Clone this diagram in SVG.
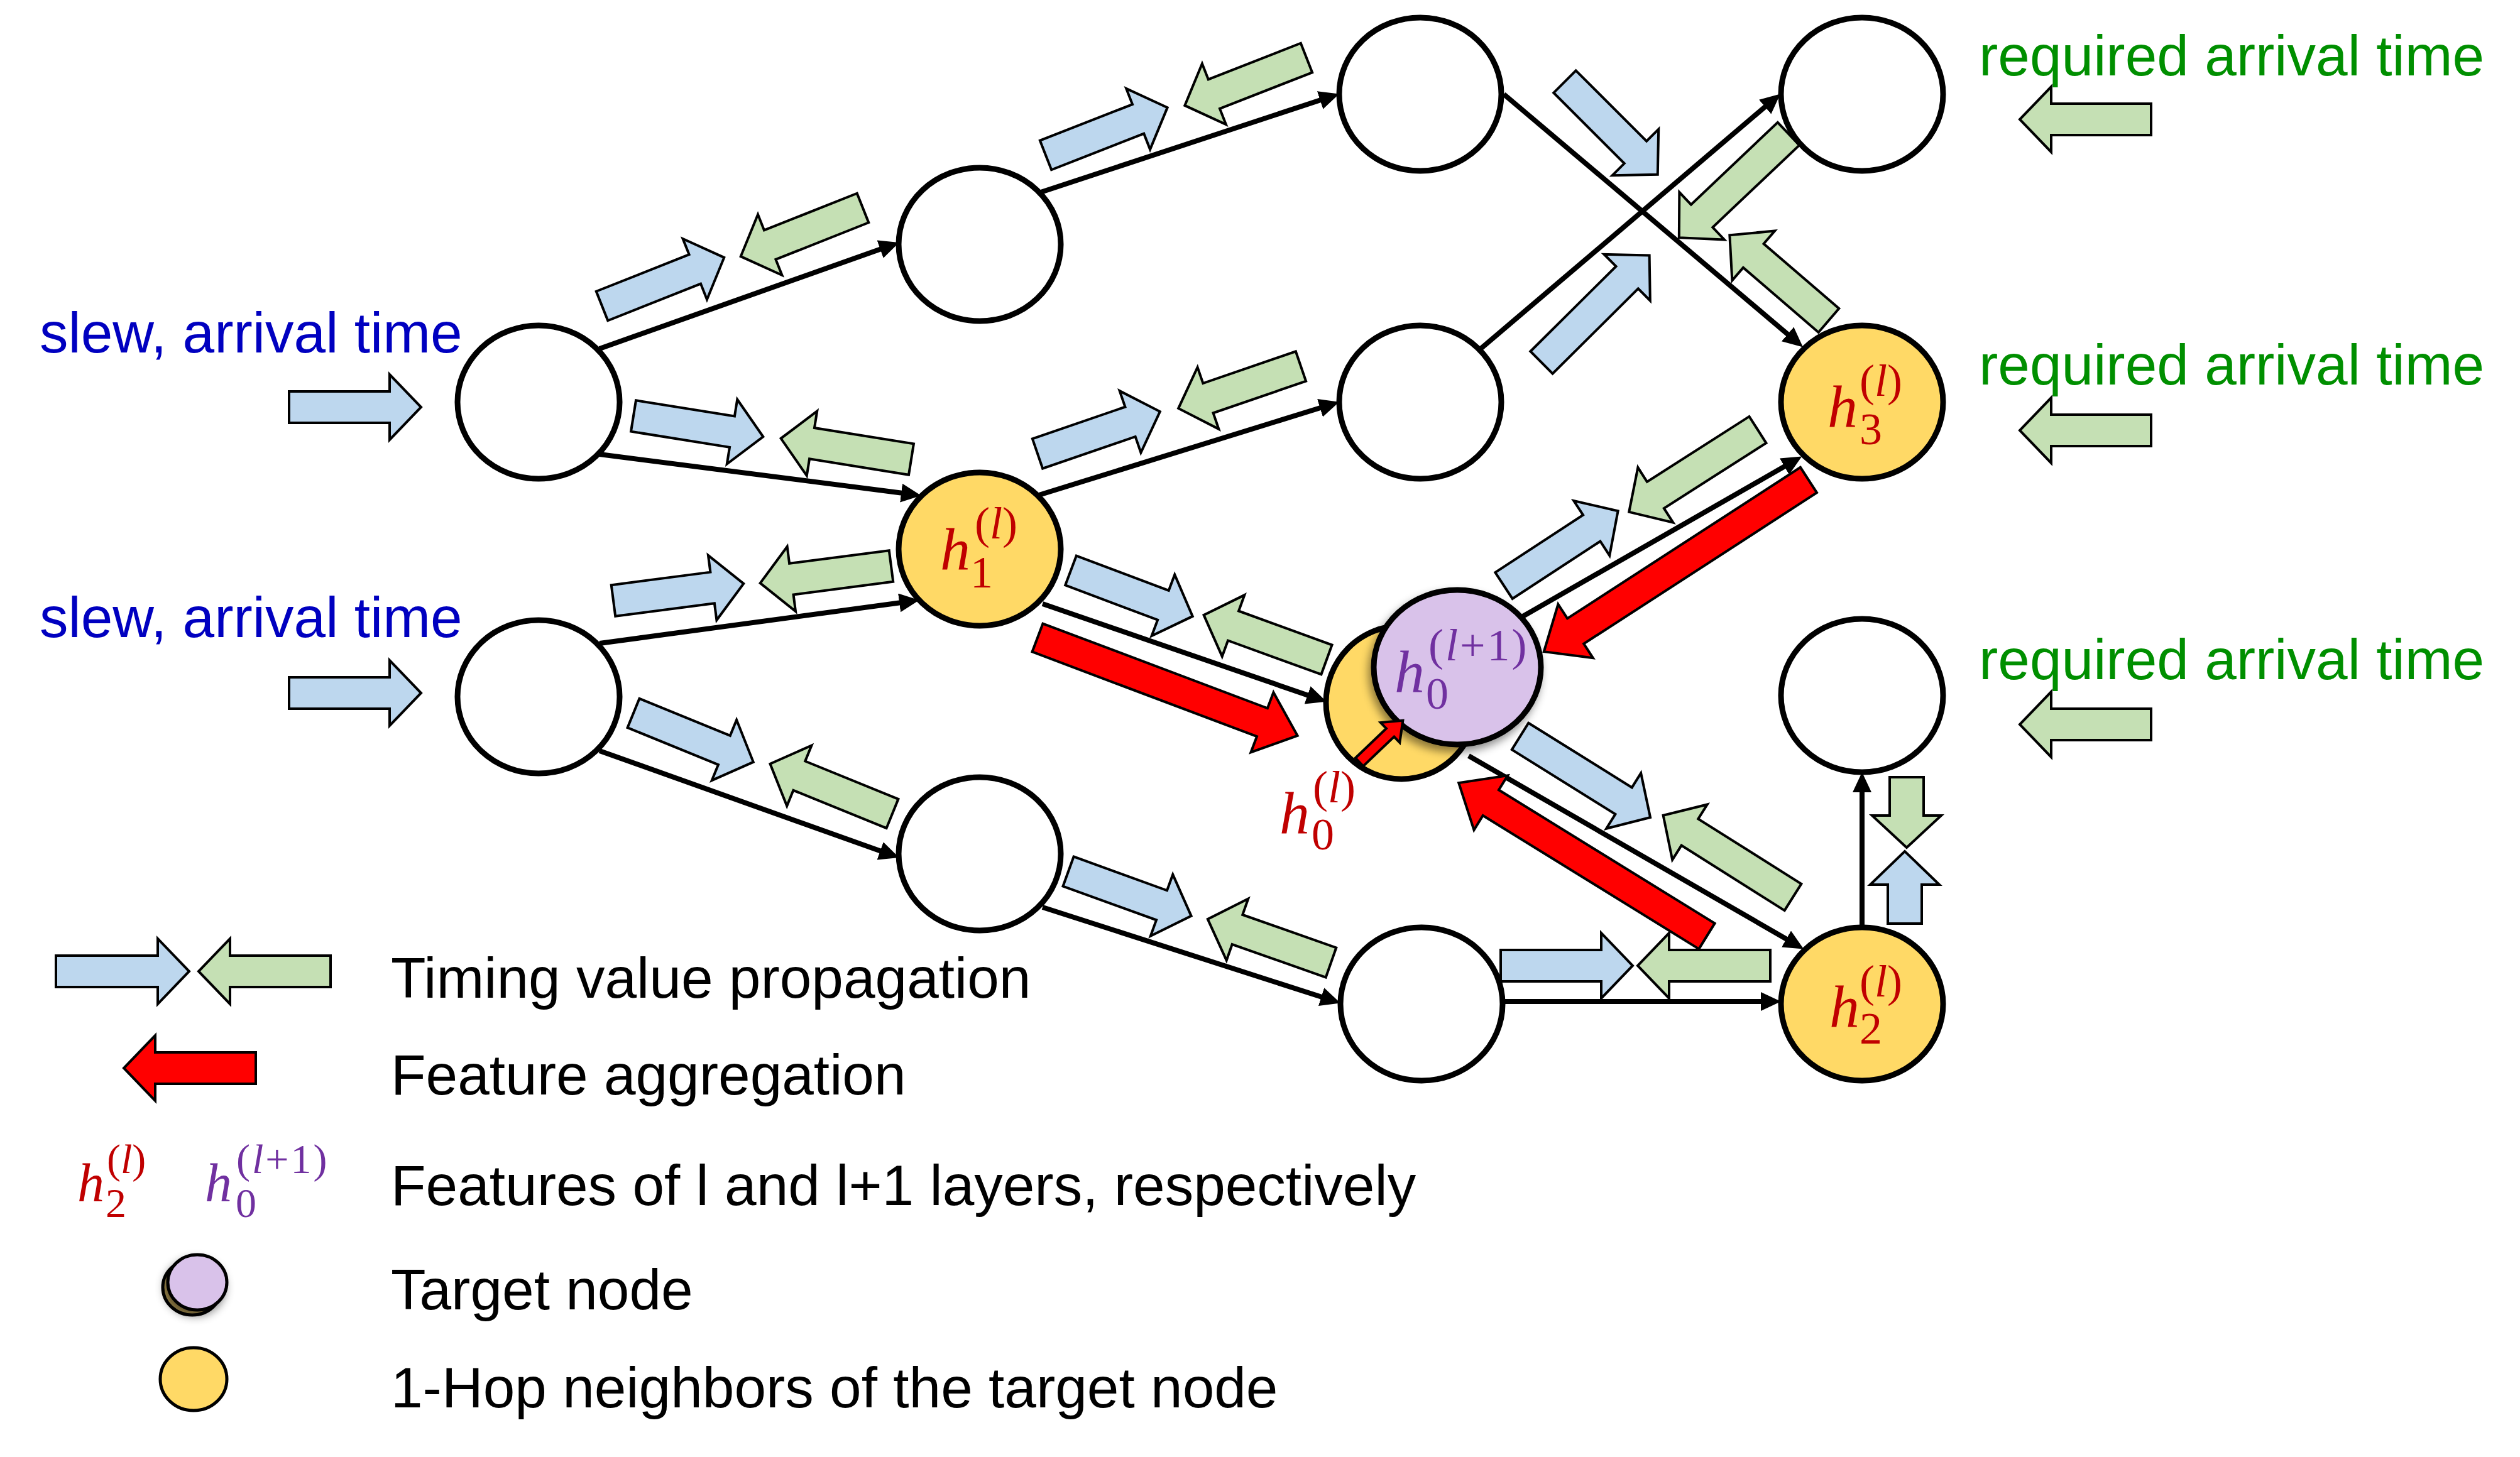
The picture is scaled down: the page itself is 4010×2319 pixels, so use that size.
<svg xmlns="http://www.w3.org/2000/svg" width="4010" height="2319" viewBox="0 0 4010 2319">
<style>
.n{fill:#fff;stroke:#000;stroke-width:9}
.y{fill:#FFD966}
.p{fill:#D9C2EA}
.e{stroke:#000;stroke-width:8;fill:none;marker-end:url(#ah)}
.b{fill:#BDD7EE;stroke:#000;stroke-width:4}
.g{fill:#C5E0B4;stroke:#000;stroke-width:4}
.r{fill:#FF0000;stroke:#000;stroke-width:4}
.t{font-family:"Liberation Sans",Arial,sans-serif;font-size:91px}
.blue{fill:#0000C0}
.green{fill:#008F00}
.m{font-family:"Liberation Serif","Times New Roman",serif}
.mr{fill:#C00000}
.mp{fill:#7030A0}
.mi{font-style:italic;font-size:96px}
.ms{font-size:72px;font-style:normal}
.lmi{font-style:italic;font-size:86px}
.lms{font-size:66px;font-style:normal}
.it{font-style:italic}
</style>
<defs>
<marker id="ah" markerUnits="userSpaceOnUse" markerWidth="34" markerHeight="32" refX="11" refY="15" orient="auto" viewBox="0 0 34 32"><path d="M0,0L32,15L0,30Z" fill="#000"/></marker>
<filter id="sh" x="-30%" y="-30%" width="160%" height="160%"><feDropShadow dx="-4" dy="8" stdDeviation="7" flood-color="#000" flood-opacity="0.45"/></filter>
</defs>

<g id="connectors">
<line class="e" x1="954" y1="555" x2="1411" y2="393"/>
<line class="e" x1="954" y1="723" x2="1445" y2="786"/>
<line class="e" x1="954" y1="1024" x2="1442" y2="958"/>
<line class="e" x1="954" y1="1195" x2="1411" y2="1358"/>
<line class="e" x1="1656" y1="306" x2="2111" y2="156"/>
<line class="e" x1="1653" y1="788" x2="2111" y2="646"/>
<line class="e" x1="1659" y1="961" x2="2091" y2="1110"/>
<line class="e" x1="1659" y1="1444" x2="2113" y2="1590"/>
<line class="e" x1="2393" y1="150" x2="2853" y2="539"/>
<line class="e" x1="2355" y1="556" x2="2817" y2="163"/>
<line class="e" x1="2418" y1="984" x2="2849" y2="737"/>
<line class="e" x1="2337" y1="1203" x2="2852" y2="1500"/>
<line class="e" x1="2392" y1="1594" x2="2813" y2="1594"/>
<line class="e" x1="2963" y1="1475" x2="2963" y2="1250"/>
</g>

<g id="timing-arrows">
<path class="b" transform="translate(958,487) rotate(-21.65)" d="M0,-25H159V-52L209,0L159,52V25H0Z"/>
<path class="g" transform="translate(1373,331) rotate(158.35)" d="M0,-25H159V-52L209,0L159,52V25H0Z"/>
<path class="b" transform="translate(1008,662) rotate(9.1)" d="M0,-25H159V-52L209,0L159,52V25H0Z"/>
<path class="g" transform="translate(1450,731) rotate(189.1)" d="M0,-25H160V-52L210,0L160,52V25H0Z"/>
<path class="b" transform="translate(976,956) rotate(-7.43)" d="M0,-25H159V-52L209,0L159,52V25H0Z"/>
<path class="g" transform="translate(1418,901) rotate(172.6)" d="M0,-25H160V-52L210,0L160,52V25H0Z"/>
<path class="b" transform="translate(1008,1135) rotate(22.21)" d="M0,-25H156V-52L206,0L156,52V25H0Z"/>
<path class="g" transform="translate(1420,1295) rotate(202.16)" d="M0,-25H160V-52L210,0L160,52V25H0Z"/>
<path class="b" transform="translate(1664,247) rotate(-21.39)" d="M0,-25H158V-52L208,0L158,52V25H0Z"/>
<path class="g" transform="translate(2079,92) rotate(158.6)" d="M0,-25H158V-52L208,0L158,52V25H0Z"/>
<path class="b" transform="translate(1651,722) rotate(-18.96)" d="M0,-25H156V-52L206,0L156,52V25H0Z"/>
<path class="g" transform="translate(2070,583) rotate(161.04)" d="M0,-25H156V-52L206,0L156,52V25H0Z"/>
<path class="b" transform="translate(1704,908) rotate(20.62)" d="M0,-25H157V-52L207,0L157,52V25H0Z"/>
<path class="g" transform="translate(2111,1050) rotate(200)" d="M0,-25H158V-52L208,0L158,52V25H0Z"/>
<path class="b" transform="translate(1700,1387) rotate(19.91)" d="M0,-25H158V-52L208,0L158,52V25H0Z"/>
<path class="g" transform="translate(2118,1532) rotate(199.4)" d="M0,-25H158V-52L208,0L158,52V25H0Z"/>
<path class="b" transform="translate(2388,1537)" d="M0,-25H160V-52L210,0L160,52V25H0Z"/>
<path class="g" transform="translate(2817,1537) rotate(180)" d="M0,-25H161V-52L211,0L161,52V25H0Z"/>
<path class="b" transform="translate(2490,130) rotate(45)" d="M0,-25H159V-52L209,0L159,52V25H0Z"/>
<path class="g" transform="translate(2846,213) rotate(136.52)" d="M0,-25H190V-52L240,0L190,52V25H0Z"/>
<path class="b" transform="translate(2453,577) rotate(-44.83)" d="M0,-25H192V-52L242,0L192,52V25H0Z"/>
<path class="g" transform="translate(2910,510) rotate(220.72)" d="M0,-25H158V-52L208,0L158,52V25H0Z"/>
<path class="b" transform="translate(2393,932) rotate(-33.18)" d="M0,-25H167V-52L217,0L167,52V25H0Z"/>
<path class="g" transform="translate(2797,684) rotate(147.42)" d="M0,-25H193V-52L243,0L193,52V25H0Z"/>
<path class="b" transform="translate(2419,1172) rotate(31.93)" d="M0,-25H194V-52L244,0L194,52V25H0Z"/>
<path class="g" transform="translate(2853,1428) rotate(212.25)" d="M0,-25H194V-52L244,0L194,52V25H0Z"/>
<path class="b" transform="translate(460,648)" d="M0,-25H160V-52L210,0L160,52V25H0Z"/>
<path class="b" transform="translate(460,1103)" d="M0,-25H160V-52L210,0L160,52V25H0Z"/>
<path class="g" transform="translate(3423,190) rotate(180)" d="M0,-25H159V-52L209,0L159,52V25H0Z"/>
<path class="g" transform="translate(3423,685) rotate(180)" d="M0,-25H159V-52L209,0L159,52V25H0Z"/>
<path class="g" transform="translate(3423,1153) rotate(180)" d="M0,-25H159V-52L209,0L159,52V25H0Z"/>
<path class="g" transform="translate(3034,1237) rotate(90)" d="M0,-27H61V-55L112,0L61,55V27H0Z"/>
<path class="b" transform="translate(3031,1470) rotate(-90)" d="M0,-27H62V-55L115,0L62,55V27H0Z"/>
</g>

<g id="aggregation-arrows">
<path class="r" transform="translate(1651,1015) rotate(20.65)" d="M0,-24H382V-51L442,0L382,51V24H0Z"/>
<path class="r" transform="translate(2878,764) rotate(147.04)" d="M0,-24H442V-51L502,0L442,51V24H0Z"/>
<path class="r" transform="translate(2716,1490) rotate(211.71)" d="M0,-24H404V-51L464,0L404,51V24H0Z"/>
</g>

<g id="node-A"><ellipse class="n" cx="857" cy="640" rx="129" ry="122"/></g>
<g id="node-B"><ellipse class="n" cx="857" cy="1109" rx="129" ry="122"/></g>
<g id="node-C"><ellipse class="n" cx="1559" cy="389" rx="129" ry="122"/></g>
<g id="node-h1">
<ellipse class="n y" cx="1559" cy="874" rx="129" ry="122"/>
<text class="m mr"><tspan class="mi" x="1496" y="907">h</tspan><tspan class="ms" x="1544" y="935">1</tspan><tspan class="ms" x="1551" y="857">(</tspan><tspan class="ms it">l</tspan><tspan class="ms">)</tspan></text>
</g>
<g id="node-E"><ellipse class="n" cx="1559" cy="1359" rx="129" ry="122"/></g>
<g id="node-F"><ellipse class="n" cx="2260" cy="150" rx="129" ry="122"/></g>
<g id="node-G"><ellipse class="n" cx="2260" cy="640" rx="129" ry="122"/></g>
<g id="node-I"><ellipse class="n" cx="2262" cy="1598" rx="129" ry="122"/></g>
<g id="node-J"><ellipse class="n" cx="2963" cy="150" rx="129" ry="122"/></g>
<g id="node-h3">
<ellipse class="n y" cx="2963" cy="640" rx="129" ry="122"/>
<text class="m mr"><tspan class="mi" x="2908" y="680">h</tspan><tspan class="ms" x="2959" y="707">3</tspan><tspan class="ms" x="2959" y="630">(</tspan><tspan class="ms it">l</tspan><tspan class="ms">)</tspan></text>
</g>
<g id="node-L"><ellipse class="n" cx="2963" cy="1107" rx="129" ry="122"/></g>
<g id="node-h2">
<ellipse class="n y" cx="2963" cy="1598" rx="129" ry="122"/>
<text class="m mr"><tspan class="mi" x="2911" y="1635">h</tspan><tspan class="ms" x="2959" y="1661">2</tspan><tspan class="ms" x="2959" y="1586">(</tspan><tspan class="ms it">l</tspan><tspan class="ms">)</tspan></text>
</g>
<g id="node-target">
<ellipse class="n y" cx="2230" cy="1118" rx="120" ry="122"/>
<ellipse class="n p" cx="2319" cy="1062" rx="133" ry="123" filter="url(#sh)"/>
<text class="m mp"><tspan class="mi" x="2219" y="1102">h</tspan><tspan class="ms" x="2269" y="1128">0</tspan><tspan class="ms" x="2273" y="1051" letter-spacing="3">(</tspan><tspan class="ms it" letter-spacing="3">l</tspan><tspan class="ms" letter-spacing="3">+1)</tspan></text>
<path class="r" transform="translate(2163,1213) rotate(-43.73)" d="M0,-9H68V-22L96,0L68,22V9H0Z"/>
<text class="m mr"><tspan class="mi" x="2036" y="1327">h</tspan><tspan class="ms" x="2087" y="1352">0</tspan><tspan class="ms" x="2089" y="1277">(</tspan><tspan class="ms it">l</tspan><tspan class="ms">)</tspan></text>
</g>

<g id="labels">
<text class="t blue" x="63" y="561">slew, arrival time</text>
<text class="t blue" x="63" y="1014">slew, arrival time</text>
<text class="t green" x="3149" y="120">required arrival time</text>
<text class="t green" x="3149" y="612">required arrival time</text>
<text class="t green" x="3149" y="1081">required arrival time</text>
</g>

<g id="legend">
<path class="b" transform="translate(89,1546)" d="M0,-25H162V-52L212,0L162,52V25H0Z"/>
<path class="g" transform="translate(526,1546) rotate(180)" d="M0,-25H160V-52L210,0L160,52V25H0Z"/>
<text class="t" x="622" y="1588">Timing value propagation</text>
<path class="r" transform="translate(407,1700) rotate(180)" d="M0,-25H160V-52L210,0L160,52V25H0Z"/>
<text class="t" x="622" y="1742">Feature aggregation</text>
<text class="m mr"><tspan class="lmi" x="123" y="1912">h</tspan><tspan class="lms" x="168" y="1937">2</tspan><tspan class="lms" x="170" y="1867">(</tspan><tspan class="lms it">l</tspan><tspan class="lms">)</tspan></text>
<text class="m mp"><tspan class="lmi" x="326" y="1912">h</tspan><tspan class="lms" x="375" y="1937">0</tspan><tspan class="lms" x="376" y="1867" letter-spacing="3">(</tspan><tspan class="lms it" letter-spacing="3">l</tspan><tspan class="lms" letter-spacing="3">+1)</tspan></text>
<text class="t" x="622" y="1918">Features of l and l+1 layers, respectively</text>
<ellipse cx="306" cy="2049" rx="47" ry="44" fill="#B39A55" stroke="#000" stroke-width="5"/>
<ellipse cx="314" cy="2041" rx="47" ry="44" fill="#D9C2EA" stroke="#000" stroke-width="5" filter="url(#sh)"/>
<text class="t" x="622" y="2084">Target node</text>
<ellipse cx="308" cy="2195" rx="53" ry="50" fill="#FFD966" stroke="#000" stroke-width="5"/>
<text class="t" x="622" y="2240">1-Hop neighbors of the target node</text>
</g>
</svg>
